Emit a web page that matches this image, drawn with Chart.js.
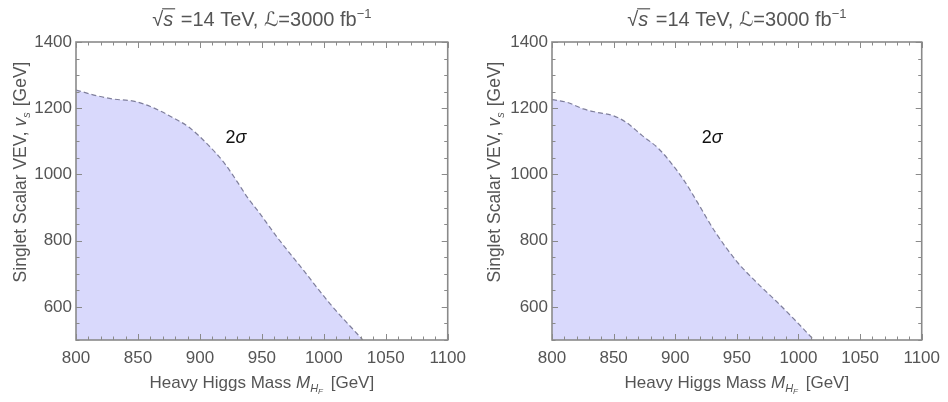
<!DOCTYPE html>
<html><head><meta charset="utf-8">
<script src="https://cdn.jsdelivr.net/npm/chart.js@4.4.1/dist/chart.umd.min.js"></script>
<style>
body{margin:0;background:#fff;}
#wrap{display:flex;width:948px;height:402px;}
canvas{display:block;}
</style></head><body>
<div id="wrap"><canvas id="left" width="474" height="402"></canvas><canvas id="right" width="474" height="402"></canvas></div>
<script>
// contour: heavy Higgs mass vs singlet VEV (2 sigma)
var massLeft = [800, 816.5, 829.7, 848.3, 861.5, 877.5, 891, 907, 920, 931, 938.5, 947.8, 962.4, 983.7, 1004.9, 1031.5];
var vevLeft  = [1255, 1238, 1228, 1220, 1203, 1173, 1143, 1088, 1033, 973, 930, 885, 810, 710, 610, 500];
var massRight = [800, 812, 825.4, 836, 849.3, 860, 873, 886.5, 897, 908, 918.3, 931.8, 950, 966, 982, 998, 1012.5];
var vevRight  = [1226, 1218, 1198, 1188, 1178, 1158, 1118, 1078, 1033, 977, 914, 830, 737, 674, 617, 557, 500];
var xTicks = [800, 850, 900, 950, 1000, 1050, 1100];
var yTicks = [600, 800, 1000, 1200, 1400];
var sigmaLeft = [929, 1112];
var sigmaRight = [930, 1112];

var FONT = '"Liberation Sans", Arial, "DejaVu Sans", sans-serif';
var GREY = '#555';
var FRAME = '#8a8a8a';

// draw a row of text pieces with mixed styles, centred on (cx, cy)
function drawRich(ctx, parts, cx, cy, rot) {
  ctx.save();
  ctx.translate(cx, cy);
  if (rot) ctx.rotate(rot);
  var total = 0;
  parts.forEach(function(p){
    ctx.font = (p.it ? 'italic ' : '') + p.size + 'px ' + FONT;
    p.w = ctx.measureText(p.t).width;
    total += p.w + (p.gap || 0);
  });
  var x = -total / 2;
  ctx.textBaseline = 'alphabetic';
  ctx.textAlign = 'left';
  parts.forEach(function(p){
    ctx.font = (p.it ? 'italic ' : '') + p.size + 'px ' + FONT;
    ctx.fillStyle = p.color || GREY;
    ctx.fillText(p.t, x, p.dy || 0);
    if (p.over) {
      ctx.strokeStyle = p.color || GREY;
      ctx.lineWidth = 1.2;
      ctx.beginPath();
      ctx.moveTo(x - 1, -p.size * 0.86);
      ctx.lineTo(x + p.w + 2, -p.size * 0.86);
      ctx.stroke();
    }
    x += p.w + (p.gap || 0);
  });
  ctx.restore();
}

function makeChart(id, xs, ys, sigma, yWidth, padRight) {
  var pts = xs.map(function(x, i){ return {x: x, y: ys[i]}; });

  var framePlugin = {
    id: 'frame',
    afterDraw: function(chart) {
      var ctx = chart.ctx, a = chart.chartArea;
      var sx = chart.scales.x, sy = chart.scales.y;
      ctx.save();
      ctx.strokeStyle = FRAME;
      ctx.lineWidth = 1;
      // inward ticks on all four sides
      for (var v = 800; v <= 1100; v += 10) {
        var px = Math.round(sx.getPixelForValue(v)) + 0.5;
        var len = (v % 50 === 0) ? 6 : 3.5;
        ctx.beginPath();
        ctx.moveTo(px, a.bottom); ctx.lineTo(px, a.bottom - len);
        ctx.moveTo(px, a.top); ctx.lineTo(px, a.top + len);
        ctx.stroke();
      }
      for (var w = 500; w <= 1400; w += 50) {
        var py = Math.round(sy.getPixelForValue(w)) + 0.5;
        var l2 = (w % 200 === 0) ? 6 : 3.5;
        ctx.beginPath();
        ctx.moveTo(a.left, py); ctx.lineTo(a.left + l2, py);
        ctx.moveTo(a.right, py); ctx.lineTo(a.right - l2, py);
        ctx.stroke();
      }
      ctx.lineWidth = 1.6;
      ctx.strokeRect(a.left, a.top, a.right - a.left, a.bottom - a.top);

      // 2 sigma label
      var lx = sx.getPixelForValue(sigma[0]), ly = sy.getPixelForValue(sigma[1]);
      drawRich(ctx, [
        {t: '2', size: 18, color: '#111'},
        {t: '\u03c3', size: 18, it: true, color: '#111'}
      ], lx, ly + 6);

      // title
      var cx = (a.left + a.right) / 2;
      drawRich(ctx, [
        {t: '\u221a', size: 20},
        {t: 's', size: 20, it: true, over: true, gap: 2},
        {t: ' =14 TeV, ', size: 20},
        {t: '\u2112', size: 20},
        {t: '=3000 fb', size: 20},
        {t: '\u22121', size: 13, dy: -8}
      ], cx, 26);

      // x axis title
      drawRich(ctx, [
        {t: 'Heavy Higgs Mass ', size: 17},
        {t: 'M', size: 17, it: true},
        {t: 'H', size: 11, it: true, dy: 4},
        {t: 'F', size: 8, it: true, dy: 6, gap: 3},
        {t: ' [GeV]', size: 17}
      ], cx, 388);

      // y axis title
      drawRich(ctx, [
        {t: 'Singlet Scalar VEV, ', size: 17.5},
        {t: 'v', size: 17.5, it: true},
        {t: 's', size: 11, it: true, dy: 4, gap: 1},
        {t: ' [GeV]', size: 17.5}
      ], 26, 172, -Math.PI / 2);
      ctx.restore();
    }
  };

  return new Chart(document.getElementById(id).getContext('2d'), {
    type: 'line',
    data: {
      datasets: [{
        data: pts,
        fill: 'start',
        backgroundColor: 'rgb(217,217,252)',
        borderColor: 'rgba(115,115,145,0.9)',
        borderWidth: 1.2,
        borderDash: [5, 3],
        pointRadius: 0,
        cubicInterpolationMode: 'monotone'
      }]
    },
    options: {
      responsive: false,
      animation: false,
      devicePixelRatio: 1,
      layout: {padding: {left: 0, top: 42, right: padRight, bottom: 0}},
      plugins: {legend: {display: false}, title: {display: false}, tooltip: {enabled: false}},
      scales: {
        x: {
          type: 'linear', min: 800, max: 1100,
          grid: {display: false, drawTicks: false},
          border: {display: false},
          afterBuildTicks: function(s){ s.ticks = xTicks.map(function(v){ return {value: v}; }); },
          afterFit: function(s){ s.height = 62; },
          ticks: {color: GREY, font: {family: FONT, size: 17}, padding: 8, maxRotation: 0, autoSkip: false,
                  callback: function(v){ return String(v); }}
        },
        y: {
          type: 'linear', min: 500, max: 1400,
          grid: {display: false, drawTicks: false},
          border: {display: false},
          afterBuildTicks: function(s){ s.ticks = yTicks.map(function(v){ return {value: v}; }); },
          afterFit: function(s){ s.width = yWidth; },
          ticks: {color: GREY, font: {family: FONT, size: 17}, padding: 4, autoSkip: false,
                  callback: function(v){ return String(v); }}
        }
      }
    },
    plugins: [framePlugin]
  });
}

makeChart('left', massLeft, vevLeft, sigmaLeft, 76, 23);
makeChart('right', massRight, vevRight, sigmaRight, 78, 20);
</script>
</body></html>
